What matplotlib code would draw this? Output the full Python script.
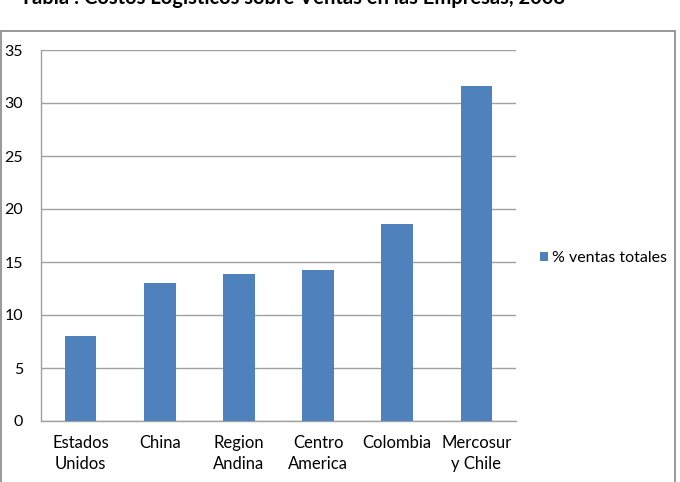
import matplotlib
matplotlib.use("Agg")
import matplotlib.pyplot as plt
from matplotlib.patches import Rectangle

categories = ["Estados\nUnidos", "China", "Region\nAndina", "Centro\nAmerica", "Colombia", "Mercosur\ny Chile"]
values = [8.0, 13.0, 13.9, 14.2, 18.6, 31.6]
series_name = "% ventas totales"
yticks = [0, 5, 10, 15, 20, 25, 30, 35]
title = "Tabla : Costos Logísticos sobre Ventas en las Empresas, 2008"

plt.rcParams['font.family'] = ['Lato', 'DejaVu Sans']

W, H = 680, 482
fig = plt.figure(figsize=(W/100, H/100), dpi=100)
fig.patch.set_facecolor("white")

# outer chart border
fig.add_artist(Rectangle((0.5/W, -0.05), (675-0.5)/W, 1 - 31/H + 0.05,
                         transform=fig.transFigure, fill=False,
                         edgecolor="#868686", linewidth=1.2))

# title, clipped at the top edge as in the reference
fig.text(20/W, 1 - 3.5/H, title, fontsize=14.5, fontweight='bold',
         ha='left', va='baseline', color='black')

ax = fig.add_axes([41/W, 1 - 421/H, (516-41)/W, (421-50)/H])
x = range(len(categories))
bars = ax.bar(x, values, width=0.4, color="#4F81BD", label=series_name, zorder=3)
ax.set_xlim(-0.5, len(categories) - 0.5)
ax.set_ylim(0, 35)
ax.set_yticks(yticks)
ax.set_yticklabels([str(t) for t in yticks], fontsize=11.5)
ax.set_xticks(list(x))
ax.set_xticklabels(categories, fontsize=12, linespacing=1.4)
ax.tick_params(axis='both', length=0, colors='black')
ax.tick_params(axis='y', pad=13)
ax.tick_params(axis='x', pad=10)
ax.yaxis.grid(True, color="#A0A0A0", linewidth=1.0, zorder=0)
ax.set_axisbelow(True)
for s in ['top', 'right']:
    ax.spines[s].set_visible(False)
for s in ['left', 'bottom']:
    ax.spines[s].set_color("#A0A0A0")
    ax.spines[s].set_linewidth(1.0)

leg = fig.legend(handles=[bars], labels=[series_name], loc='center left',
                 bbox_to_anchor=(540/W, 1 - 258/H), frameon=False, fontsize=11.5,
                 borderpad=0, borderaxespad=0,
                 handlelength=0.5, handleheight=0.5, handletextpad=0.25)

fig.savefig("out.png", dpi=100, facecolor="white")
